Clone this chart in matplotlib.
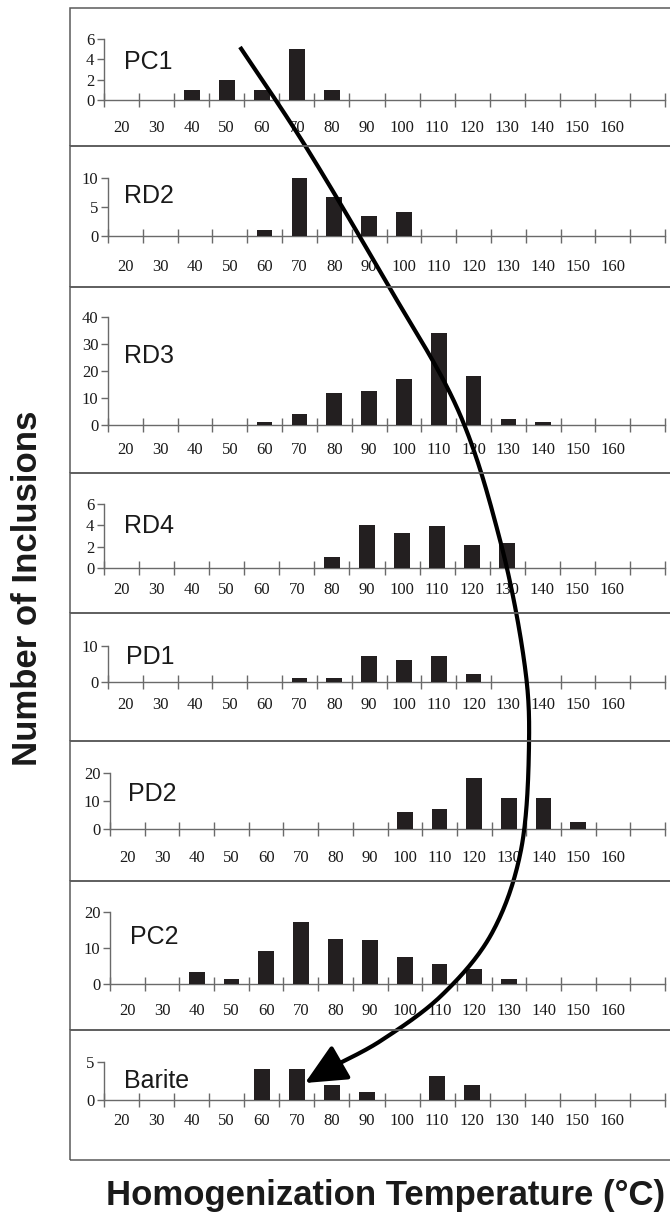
import matplotlib
matplotlib.use('Agg')
import matplotlib.pyplot as plt
import numpy as np
from matplotlib.patches import Rectangle

# ---------------- data ----------------
temp_labels = ['20', '30', '40', '50', '60', '70', '80', '90', '100', '110',
               '120', '130', '140', '150', '160', '']
samples = ['PC1', 'RD2', 'RD3', 'RD4', 'PD1', 'PD2', 'PC2', 'Barite']
PC1 = [0, 0, 1, 2, 1, 5, 1, 0, 0, 0, 0, 0, 0, 0, 0, 0]
RD2 = [0, 0, 0, 0, 1, 10, 6.7, 3.5, 4.1, 0, 0, 0, 0, 0, 0, 0]
RD3 = [0, 0, 0, 0, 1.2, 3.9, 11.9, 12.6, 17.2, 34.2, 18.2, 2.2, 1.2, 0, 0, 0]
RD4 = [0, 0, 0, 0, 0, 0, 1.0, 4.0, 3.25, 3.95, 2.2, 2.3, 0, 0, 0, 0]
PD1 = [0, 0, 0, 0, 0, 1.1, 1.1, 7.3, 6.0, 7.3, 2.3, 0, 0, 0, 0, 0]
PD2 = [0, 0, 0, 0, 0, 0, 0, 0, 6.1, 7.1, 18.2, 11.1, 11.0, 2.6, 0, 0]
PC2 = [0, 0, 3.3, 1.4, 9.3, 17.1, 12.6, 12.2, 7.4, 5.6, 4.1, 1.4, 0, 0, 0, 0]
Barite = [0, 0, 0, 0, 4.1, 4.1, 2.0, 1.05, 0, 3.2, 2.0, 0, 0, 0, 0, 0]
counts = [PC1, RD2, RD3, RD4, PD1, PD2, PC2, Barite]
y_max = [6, 10, 40, 6, 10, 20, 20, 5]
y_step = [2, 5, 10, 2, 10, 10, 10, 5]

# ---------------- layout (pixels) ----------------
W, H = 670, 1222
box_top = [8, 146, 287, 473, 613, 741, 881, 1030]
box_bot = [146, 287, 473, 613, 741, 881, 1030, 1160]
axis_left = [104, 108, 108, 104, 108, 110, 110, 104]
axis_right = 665
zero_y = [100, 236, 425, 568, 682, 829, 984, 1100]
top_y = [39, 178, 317, 504, 646, 773, 912, 1062]
lab_off = [28, 31, 25, 22, 23, 29, 27, 21]
name_xy = [(124, 62), (124, 196), (124, 356), (124, 526), (126, 657), (128, 794),
           (130, 937), (124, 1081)]

SERIF = 'Liberation Serif'
SANS = 'Liberation Sans'
BAR = '#231f20'
AX = '#6a6a6a'


def px(x0, y0, x1, y1):
    return [x0 / W, 1 - y1 / H, (x1 - x0) / W, (y1 - y0) / H]


fig = plt.figure(figsize=(W / 100, H / 100), dpi=100)

# panel boxes
for t, b in zip(box_top, box_bot):
    fig.add_artist(Rectangle((70 / W, 1 - b / H), (W + 5 - 70) / W, (b - t) / H,
                             transform=fig.transFigure, fill=False,
                             edgecolor='#5a5a5a', lw=1.1))

ncat = len(temp_labels)
xpos = np.arange(ncat)
for i, vals in enumerate(counts):
    ax = fig.add_axes(px(axis_left[i], top_y[i], axis_right, zero_y[i]))
    ax.patch.set_alpha(0)
    ax.bar(xpos, vals, width=0.45, color=BAR, zorder=3)
    ax.set_xlim(-0.5, ncat - 0.5)
    ax.set_ylim(0, y_max[i])
    for s in ['top', 'right']:
        ax.spines[s].set_visible(False)
    for s in ['left', 'bottom']:
        ax.spines[s].set_color(AX)
        ax.spines[s].set_linewidth(1.0)
    ax.set_xticks(np.arange(-0.5, ncat), [])
    ax.set_xticks(xpos, temp_labels, minor=True)
    ax.tick_params(axis='x', which='major', direction='inout', length=10,
                   color=AX, width=1.0)
    ax.tick_params(axis='x', which='minor', length=0,
                   pad=(lab_off[i] - 8) * 0.72, labelsize=12)
    ax.set_yticks(np.arange(0, y_max[i] + 0.01, y_step[i]))
    ax.tick_params(axis='y', direction='out', length=5, color=AX, width=1.0,
                   labelsize=12, pad=2)
    for lab in ax.get_xticklabels(minor=True) + ax.get_yticklabels():
        lab.set_fontfamily(SERIF)
        lab.set_color('#1a1a1a')

# overlay in pixel coordinates
ov = fig.add_axes([0, 0, 1, 1])
ov.set_xlim(0, W)
ov.set_ylim(H, 0)
ov.axis('off')
ov.patch.set_alpha(0)

for name, (x, y) in zip(samples, name_xy):
    ov.text(x, y, name, fontsize=18, family=SANS, va='center', ha='left',
            color='#1a1a1a')


def catmull(pts, n=30):
    pts = np.asarray(pts, float)
    P = np.vstack([pts[0], pts, pts[-1]])
    out = []
    t = np.linspace(0, 1, n, endpoint=False)[:, None]
    for k in range(1, len(P) - 2):
        p0, p1, p2, p3 = P[k - 1], P[k], P[k + 1], P[k + 2]
        out.append(0.5 * (2 * p1 + (-p0 + p2) * t + (2 * p0 - 5 * p1 + 4 * p2 - p3) * t ** 2
                          + (-p0 + 3 * p1 - 3 * p2 + p3) * t ** 3))
    out.append(P[-2][None])
    return np.vstack(out)


guide = [(240, 47), (306, 147), (385, 280), (458, 410), (500, 540), (524, 660),
         (529, 745), (521, 850), (492, 933), (442, 995), (382, 1040), (336, 1065)]
c = catmull(guide)
ov.plot(c[:, 0], c[:, 1], color='black', lw=3.0, solid_capstyle='butt', zorder=10)
ov.annotate('', xy=(305, 1083), xytext=(338, 1064),
            arrowprops=dict(arrowstyle='-|>,head_length=0.85,head_width=0.4',
                            mutation_scale=30, color='black', lw=3,
                            shrinkA=0, shrinkB=0), zorder=11)

fig.text(28 / W, 1 - 588 / H, 'Number of Inclusions', rotation=90, fontsize=25,
         fontweight='bold', family=SANS, ha='center', va='center', color='#1a1a1a')
fig.text(386 / W, 1 - 1196 / H, 'Homogenization Temperature (°C)', fontsize=25,
         fontweight='bold', family=SANS, ha='center', va='center', color='#1a1a1a')

fig.savefig('out.png', dpi=100, facecolor='white')
